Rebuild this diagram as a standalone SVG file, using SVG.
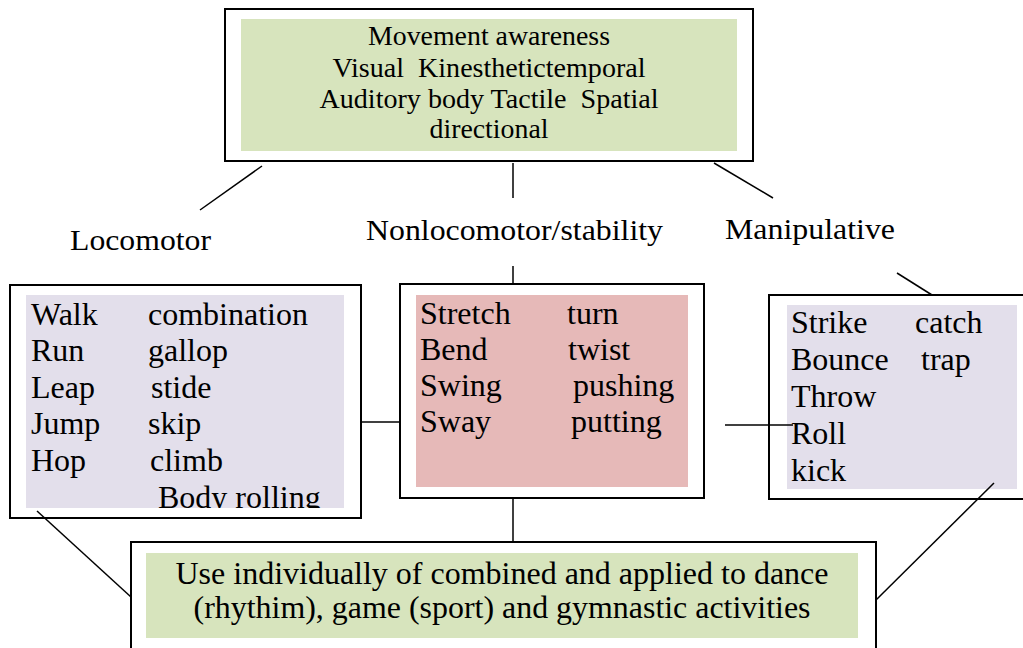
<svg xmlns="http://www.w3.org/2000/svg" width="1023" height="648" viewBox="0 0 1023 648">
<style>
.box{fill:#fff;stroke:#000;stroke-width:2}
.t{font-family:"Liberation Serif",Tinos,"Times New Roman",Times,serif;fill:#000}
.c{text-anchor:middle}
.conn line{stroke:#000;stroke-width:1.5}
</style>
<defs>
<clipPath id="clipL"><rect x="26" y="295" width="318" height="213"/></clipPath>
</defs>
<rect width="1023" height="648" fill="#fff"/>
<g id="top">
<rect class="box" x="225" y="9" width="528" height="152"/>
<rect x="241" y="19" width="496" height="132" fill="#d7e4bd"/>
<text class="t c" x="489" y="45" font-size="27" textLength="242" lengthAdjust="spacingAndGlyphs">Movement awareness</text>
<text class="t c" x="489" y="77" font-size="27" textLength="313" lengthAdjust="spacingAndGlyphs" xml:space="preserve">Visual  Kinesthetictemporal</text>
<text class="t c" x="489" y="108" font-size="27" textLength="339" lengthAdjust="spacingAndGlyphs" xml:space="preserve">Auditory body Tactile  Spatial</text>
<text class="t c" x="489" y="138" font-size="27" textLength="119" lengthAdjust="spacingAndGlyphs">directional</text>
</g>
<g id="labels">
<text class="t" x="70" y="250" font-size="29" textLength="141" lengthAdjust="spacingAndGlyphs">Locomotor</text>
<text class="t" x="366" y="240" font-size="29" textLength="297" lengthAdjust="spacingAndGlyphs">Nonlocomotor/stability</text>
<text class="t" x="725" y="239" font-size="29" textLength="170" lengthAdjust="spacingAndGlyphs">Manipulative</text>
</g>
<g id="locomotor">
<rect class="box" x="10" y="285" width="351" height="233"/>
<rect x="26" y="295" width="318" height="213" fill="#e3dfeb"/>
<g class="t" font-size="32">
<text x="31" y="325">Walk</text><text x="148" y="325">combination</text>
<text x="31" y="361">Run</text><text x="148" y="361">gallop</text>
<text x="31" y="398">Leap</text><text x="151" y="398">stide</text>
<text x="31" y="434">Jump</text><text x="148" y="434">skip</text>
<text x="31" y="471">Hop</text><text x="150" y="471">climb</text>
<text x="158" y="508" clip-path="url(#clipL)">Body rolling</text>
</g>
</g>
<g id="nonlocomotor">
<rect class="box" x="400" y="284" width="304" height="214"/>
<rect x="416" y="295" width="272" height="192" fill="#e6b9b8"/>
<g class="t" font-size="32">
<text x="420" y="324">Stretch</text><text x="567" y="324">turn</text>
<text x="420" y="360">Bend</text><text x="568" y="360">twist</text>
<text x="420" y="396">Swing</text><text x="573" y="396">pushing</text>
<text x="420" y="432">Sway</text><text x="571" y="432">putting</text>
</g>
</g>
<g id="manipulative">
<rect class="box" x="769" y="295" width="270" height="204"/>
<rect x="787" y="305" width="230" height="184" fill="#e3dfeb"/>
<g class="t" font-size="32">
<text x="791" y="333">Strike</text><text x="915" y="333">catch</text>
<text x="791" y="370">Bounce</text><text x="921" y="370">trap</text>
<text x="791" y="407">Throw</text>
<text x="791" y="444">Roll</text>
<text x="791" y="481">kick</text>
</g>
</g>
<g id="bottom">
<rect class="box" x="131" y="542" width="745" height="120"/>
<rect x="146" y="553" width="712" height="85" fill="#d7e4bd"/>
<text class="t c" x="502" y="584" font-size="31" textLength="653" lengthAdjust="spacingAndGlyphs">Use individually of combined and applied to dance</text>
<text class="t c" x="502" y="618" font-size="31" textLength="617" lengthAdjust="spacingAndGlyphs">(rhythim), game (sport) and gymnastic activities</text>
</g>
<g class="conn">
<line x1="262" y1="166" x2="200" y2="210"/>
<line x1="513" y1="163" x2="513" y2="198"/>
<line x1="714" y1="163" x2="773" y2="198"/>
<line x1="513" y1="266" x2="513" y2="284"/>
<line x1="897" y1="273" x2="932" y2="295"/>
<line x1="361" y1="422" x2="400" y2="422"/>
<line x1="725" y1="425" x2="793" y2="425"/>
<line x1="513" y1="499" x2="513" y2="541"/>
<line x1="37" y1="511" x2="131" y2="597"/>
<line x1="994" y1="483" x2="876" y2="600"/>
</g>
</svg>
